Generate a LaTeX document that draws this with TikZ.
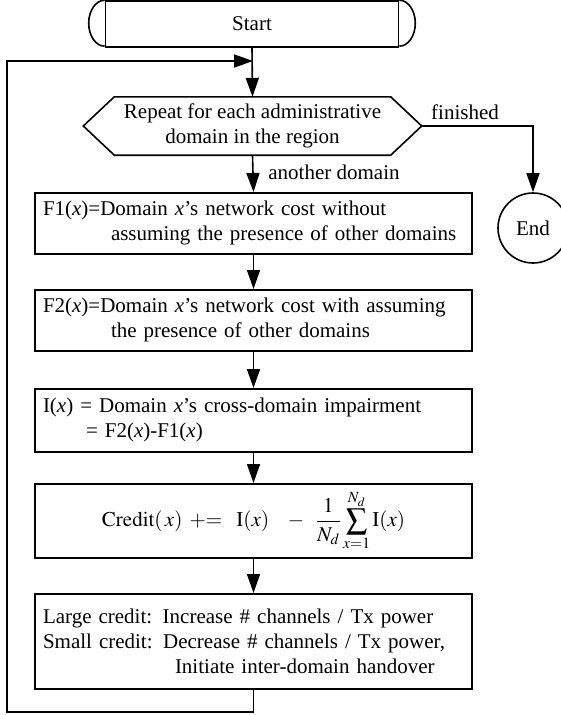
\documentclass[tikz,border=0pt]{standalone}
\usepackage{mathptmx}
\usepackage[no-math]{fontspec}
\setmainfont{Liberation Serif}
\usetikzlibrary{arrows.meta}

\begin{document}
\begin{tikzpicture}[x=1pt,y=-1pt,
  every node/.style={font=\fontsize{21}{25}\selectfont},
  line/.style={line width=1.6pt},
  flow/.style={line, -{Triangle[length=19pt,width=13pt]}},
  procbox/.style={draw, line width=1.6pt, minimum width=437pt, text width=421pt,
    inner xsep=8pt, inner ysep=0pt, align=left, anchor=north},
  lbl/.style={inner sep=0pt},
]
\clip (0,0) rectangle (561,715);
\useasboundingbox (0,0) rectangle (561,715);

% terminator "Start": box with inner bars and rounded ends
\node[draw, line width=1.6pt, minimum width=293pt, minimum height=46pt, inner sep=0pt]
  (start) at (252,24) {Start};
\draw[line] (start.north west) arc[start angle=90, end angle=270, x radius=16pt, y radius=23pt];
\draw[line] (start.north east) arc[start angle=90, end angle=-90, x radius=16pt, y radius=23pt];

% loop decision (hexagon)
\node[minimum width=338pt, minimum height=58pt, inner sep=0pt, align=center]
  (loop) at (252.5,126) {\raisebox{-2pt}{\parbox{300pt}{\centering Repeat for each administrative\\domain in the region}}};
\draw[line] (loop.west) -- ([xshift=31pt]loop.north west) -- ([xshift=-31pt]loop.north east)
  -- (loop.east) -- ([xshift=-31pt]loop.south east) -- ([xshift=31pt]loop.south west) -- cycle;

% end terminal
\node[draw, circle, line width=1.6pt, minimum size=70pt, inner sep=0pt] (end) at (533,228) {End};

% process steps
\node[procbox, minimum height=61pt] (f1) at (253.5,192)
  {F1(\textit{x})=Domain \textit{x}'s network cost without\\
   \hspace*{68pt}assuming the presence of other domains};
\node[procbox, minimum height=61pt] (f2) at (253.5,289)
  {F2(\textit{x})=Domain \textit{x}'s network cost with assuming\\
   \hspace*{68pt}the presence of other domains};
\node[procbox, minimum height=63pt] (imp) at (253.5,388)
  {I(\textit{x}) = Domain \textit{x}'s cross-domain impairment\\
   \hspace*{43pt}= F2(\textit{x})-F1(\textit{x})};
\node[procbox, minimum height=74pt, align=center] (credit) at (253.5,483)
  {$\displaystyle \mathrm{Credit}(\,x)\mathrel{+}=\;\mathrm{I}(x)\;\;-\;\frac{1}{N_d}\sum_{x=1}^{N_d}\mathrm{I}(x)$};
\node[procbox, minimum height=95pt] (act) at (253.5,593)
  {Large credit: Increase \# channels / Tx power\\
   Small credit: Decrease \# channels / Tx power,\\
   \hspace*{132pt}Initiate inter-domain handover};

% labels
\node[lbl] (lblfin) at (465,112) {finished};
\node[lbl] (lblanother) at (334,172) {another domain};

% connectors
\coordinate (join) at (253,61);
\coordinate (cornerBL) at (7,712);
\draw[flow] (start.south) -- (loop.north);
\draw[flow] (loop.south) -- (f1.north);
\draw[flow] (f1.south) -- (f2.north);
\draw[flow] (f2.south) -- (imp.north);
\draw[flow] (imp.south) -- (credit.north);
\draw[flow] (credit.south) -- (act.north);
\draw[flow] (act.south) |- (cornerBL) |- (join);
\draw[flow] (loop.east) -| (end.north);
\end{tikzpicture}
\end{document}
